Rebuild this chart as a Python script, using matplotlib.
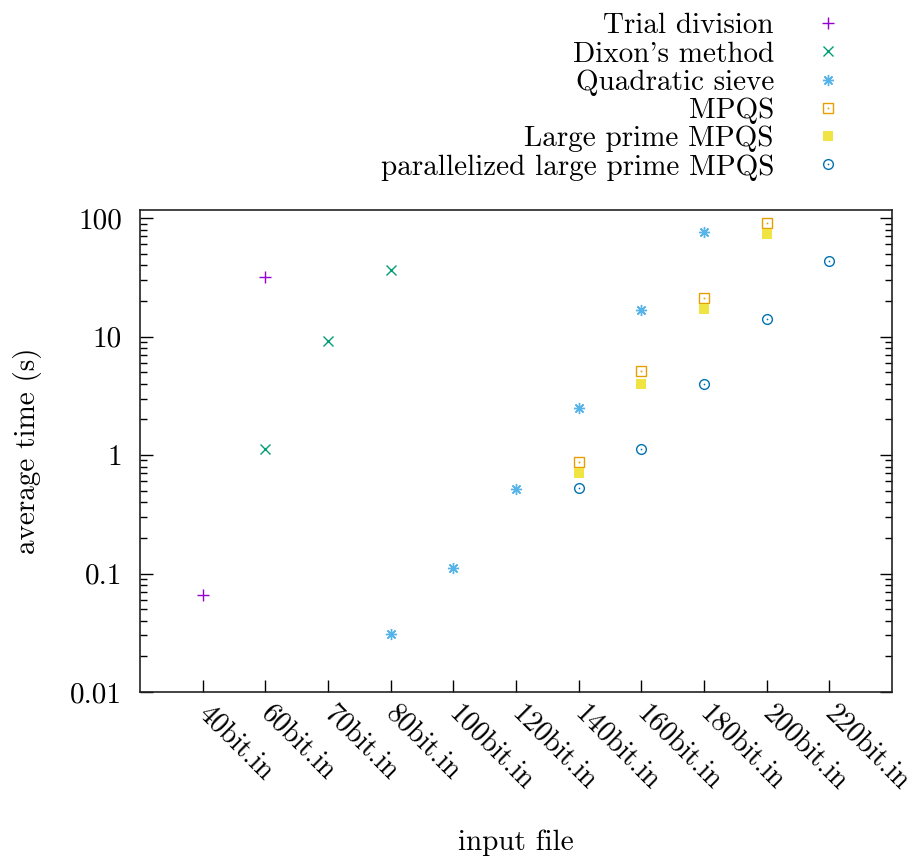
import matplotlib
matplotlib.use("Agg")
import matplotlib.pyplot as plt
import numpy as np
from matplotlib.ticker import LogLocator, FuncFormatter, NullFormatter
from matplotlib.legend_handler import HandlerTuple

plt.rcParams['font.family'] = ['cmr10', 'DejaVu Serif']
plt.rcParams['axes.formatter.use_mathtext'] = True
plt.rcParams['font.size'] = 21

# input files on the x axis
files = ['40bit.in', '60bit.in', '70bit.in', '80bit.in', '100bit.in', '120bit.in',
         '140bit.in', '160bit.in', '180bit.in', '200bit.in', '220bit.in']

# average time (s) per method, indexed by file
trial_idx = [0, 1]
trial_t = [0.0665, 31.8]

dixon_idx = [1, 2, 3]
dixon_t = [1.12, 9.1, 36.4]

qs_idx = [3, 4, 5, 6, 7, 8]
qs_t = [0.031, 0.112, 0.516, 2.49, 16.9, 76.2]

mpqs_idx = [6, 7, 8, 9]
mpqs_t = [0.873, 5.1, 21.3, 90.7]

lp_idx = [6, 7, 8, 9]
lp_t = [0.705, 3.97, 17.1, 73.3]

par_idx = [6, 7, 8, 9, 10]
par_t = [0.527, 1.12, 3.97, 14.2, 43.4]

fig = plt.figure(figsize=(9.13, 8.61), dpi=100)
ax = fig.add_axes([140 / 913, 1 - 692 / 861, 752 / 913, 482 / 861])

ms = 7
mw = 1.0
h1, = ax.plot(trial_idx, trial_t, '+', color='#9400d3', ms=ms + 1, mew=mw, ls='none')
h2, = ax.plot(dixon_idx, dixon_t, 'x', color='#009e73', ms=ms, mew=mw, ls='none')
h3, = ax.plot(qs_idx, qs_t, marker=(8, 2, 0), color='#56b4e9', ms=ms + 1, mew=mw, ls='none')
h4a, = ax.plot(mpqs_idx, mpqs_t, 's', mfc='none', mec='#e69f00', ms=ms, mew=mw, ls='none')
h4b, = ax.plot(mpqs_idx, mpqs_t, 's', color='#e69f00', ms=1.2, mew=0, ls='none')
h5, = ax.plot(lp_idx, lp_t, 's', color='#f0e442', ms=ms, mew=0, ls='none')
h6a, = ax.plot(par_idx, par_t, 'o', mfc='none', mec='#0072b2', ms=ms, mew=mw, ls='none')
h6b, = ax.plot(par_idx, par_t, 'o', color='#0072b2', ms=1.2, mew=0, ls='none')

ax.set_yscale('log')
ax.set_ylim(0.01, 117)
ax.set_xlim(-1, 11)

ax.yaxis.set_major_locator(LogLocator(base=10, numticks=10))
ax.yaxis.set_minor_locator(LogLocator(base=10, subs=np.arange(2, 10), numticks=20))
ax.yaxis.set_major_formatter(FuncFormatter(lambda v, p: '%g' % v))
ax.yaxis.set_minor_formatter(NullFormatter())

ax.set_xticks(range(len(files)))
ax.set_xticklabels(files, rotation=-45, ha='left', va='center', rotation_mode='anchor',
                   fontsize=20.3)

ax.tick_params(axis='y', which='both', direction='in', left=True, right=True)
ax.tick_params(axis='y', which='major', length=9, width=1, pad=13)
ax.tick_params(axis='y', which='minor', length=5, width=1)
ax.tick_params(axis='x', which='major', direction='in', top=False, length=9, width=1, pad=13)

for s in ax.spines.values():
    s.set_linewidth(1.2)
    s.set_color('#222222')

ax.set_ylabel('average time (s)', labelpad=20)
ax.set_xlabel('input file', labelpad=24)

labels = ['Trial division', "Dixon's method", 'Quadratic sieve', 'MPQS',
          'Large prime MPQS', 'parallelized large prime MPQS']
leg = fig.legend([h1, h2, h3, (h4a, h4b), h5, (h6a, h6b)], labels,
                 handler_map={tuple: HandlerTuple(ndivide=1, pad=0)},
                 loc='upper right', bbox_to_anchor=(857 / 913, 1 - 13 / 861),
                 frameon=False, markerfirst=False, handlelength=2.0,
                 handletextpad=0.85, labelspacing=0.06, borderpad=0, borderaxespad=0)

fig.savefig('out.png', dpi=100)
